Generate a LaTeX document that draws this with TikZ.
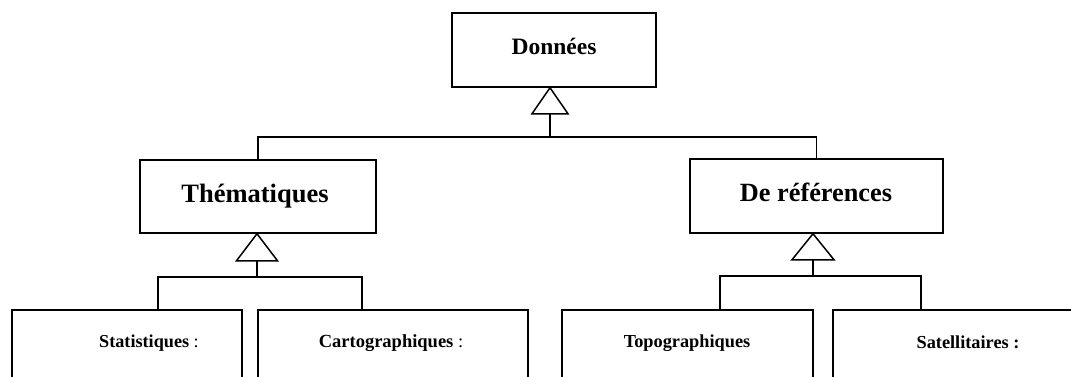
\documentclass[tikz,border=0pt]{standalone}
\usepackage{fontspec}
\setmainfont{Liberation Serif}
\begin{document}
\begin{tikzpicture}[x=1pt,y=-1pt,
  box/.style={draw,line width=1.5pt,rectangle,inner sep=0pt},
  conn/.style={line width=1.5pt},
  tri/.style={line width=1.5pt,fill=white,line join=miter},
  lbl/.style={anchor=base,inner sep=0pt}]
\clip (0,0) rectangle (1071,376);
\fill[white] (0,0) rectangle (1071,376);
% boxes
\node[box,minimum width=204pt,minimum height=74pt] (donnees) at (554,50) {};
\node[box,minimum width=236pt,minimum height=73pt] (them) at (258,196.5) {};
\node[box,minimum width=253pt,minimum height=74pt] (refs) at (816.5,196) {};
\node[box,minimum width=230pt,minimum height=110pt] (stat) at (127,365) {};
\node[box,minimum width=270pt,minimum height=110pt] (carto) at (393,365) {};
\node[box,minimum width=251pt,minimum height=110pt] (topo) at (687.5,365) {};
\node[box,minimum width=257pt,minimum height=110pt] (sat) at (961.5,365) {};
% labels
\node[lbl,font=\fontsize{23.5}{28}\selectfont\bfseries] (tdon) at (554,54) {Données};
\node[lbl,font=\fontsize{26.5}{32}\selectfont\bfseries] (tthem) at (255,202) {Thématiques};
\node[lbl,font=\fontsize{26.3}{32}\selectfont\bfseries] (trefs) at (816,201) {De références};
\node[lbl,font=\fontsize{18.2}{22}\selectfont] (tstat) at (149,347) {\textbf{Statistiques} :};
\node[lbl,font=\fontsize{18.5}{22}\selectfont] (tcarto) at (391,347) {\textbf{Cartographiques} :};
\node[lbl,font=\fontsize{18.3}{22}\selectfont\bfseries] (ttopo) at (687,347) {Topographiques};
\node[lbl,font=\fontsize{18.3}{22}\selectfont\bfseries] (tsat) at (968,348) {Satellitaires :};
% generalisation: Donnees
\coordinate (dapex) at ([xshift=-4pt]donnees.south);
\coordinate (dbase) at ([xshift=-4pt,yshift=-26pt]donnees.south);
\coordinate (dbus) at ([xshift=-4pt,yshift=-49pt]donnees.south);
\draw[conn] (them.north) |- (dbus) -| (refs.north);
\draw[conn] (dbus) -- (dbase);
\draw[tri] (dapex) -- ++(-18,26) -- ++(36,0) -- cycle;
% generalisation: Thematiques
\coordinate (tapex) at ([xshift=-1pt]them.south);
\coordinate (tbase) at ([xshift=-1pt,yshift=-27pt]them.south);
\coordinate (tbus) at ([xshift=-1pt,yshift=-43pt]them.south);
\draw[conn] ([xshift=31pt]stat.north) |- (tbus) -| ([xshift=-31pt]carto.north);
\draw[conn] (tbus) -- (tbase);
\draw[tri] (tapex) -- ++(-20.5,27) -- ++(41,0) -- cycle;
% generalisation: De references
\coordinate (rapex) at ([xshift=-3.5pt]refs.south);
\coordinate (rbase) at ([xshift=-3.5pt,yshift=-26pt]refs.south);
\coordinate (rbus) at ([xshift=-3.5pt,yshift=-42pt]refs.south);
\draw[conn] ([xshift=32.5pt]topo.north) |- (rbus) -| ([xshift=-40.5pt]sat.north);
\draw[conn] (rbus) -- (rbase);
\draw[tri] (rapex) -- ++(-21,26) -- ++(42,0) -- cycle;
\end{tikzpicture}
\end{document}
